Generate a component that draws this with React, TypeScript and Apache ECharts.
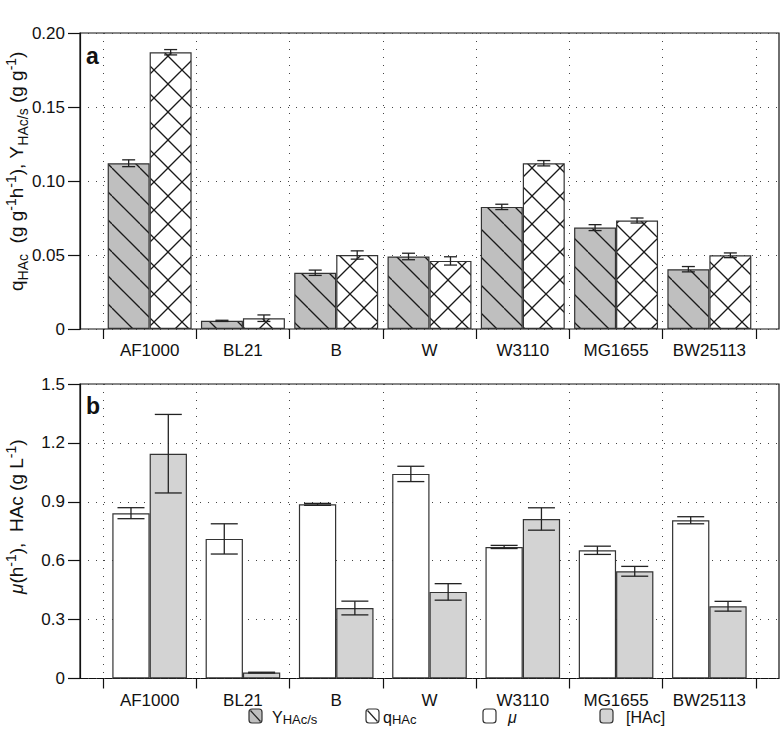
import React, { useEffect, useRef } from 'react';
import * as echarts from 'echarts';

// ---- data ----
const categories = ['AF1000', 'BL21', 'B', 'W', 'W3110', 'MG1655', 'BW25113'];
// panel a
const yieldHAc = [0.112, 0.0055, 0.038, 0.049, 0.0825, 0.0685, 0.0404];
const yieldErr = [0.0023, 0.0004, 0.0018, 0.0022, 0.0018, 0.002, 0.0018];
const qHAc = [0.187, 0.0073, 0.05, 0.046, 0.112, 0.0733, 0.0498];
const qErr = [0.0018, 0.0022, 0.0028, 0.0028, 0.0018, 0.0017, 0.0016];
// panel b
const mu = [0.842, 0.711, 0.887, 1.042, 0.67, 0.653, 0.806];
const muErr = [0.028, 0.077, 0.005, 0.039, 0.008, 0.021, 0.018];
const hac = [1.145, 0.03, 0.359, 0.441, 0.8125, 0.546, 0.368];
const hacErr = [0.2, 0.002, 0.035, 0.042, 0.057, 0.025, 0.025];
// axes
const topAxis = { min: 0, max: 0.2, step: 0.05 };
const bottomAxis = { min: 0, max: 1.5, step: 0.3 };

const FONT = '"Liberation Sans", Arial, Helvetica, sans-serif';
const INK = '#222';

function makePattern(bg: string, back: boolean, fwd: boolean) {
  const s = 28;
  const c = document.createElement('canvas');
  c.width = s;
  c.height = s;
  const ctx = c.getContext('2d')!;
  ctx.fillStyle = bg;
  ctx.fillRect(0, 0, s, s);
  ctx.strokeStyle = '#1a1a1a';
  ctx.lineWidth = 1.3;
  for (const x0 of [-s, 0, s]) {
    if (back) {
      ctx.beginPath();
      ctx.moveTo(x0, 0);
      ctx.lineTo(x0 + s, s);
      ctx.stroke();
    }
    if (fwd) {
      ctx.beginPath();
      ctx.moveTo(x0 + s, 0);
      ctx.lineTo(x0, s);
      ctx.stroke();
    }
  }
  return c;
}

function errSeries(vals: number[], errs: number[], side: number, capW: number, gap: number, xi: number, yi: number) {
  return {
    type: 'custom',
    xAxisIndex: xi,
    yAxisIndex: yi,
    z: 10,
    silent: true,
    data: vals.map((v, k) => [k, v, errs[k]]),
    encode: { x: 0, y: 1 },
    renderItem: (params: any, api: any) => {
      const i = api.value(0);
      const v = api.value(1);
      const e = api.value(2);
      const band = api.size([1, 0])[0];
      const bw = (band * (1 - gap)) / 2;
      const top = api.coord([i, v + e]);
      const bot = api.coord([i, v - e]);
      const x = top[0] + (side * bw) / 2;
      const st = { stroke: INK, lineWidth: 1.3 };
      return {
        type: 'group',
        children: [
          { type: 'line', shape: { x1: x, y1: top[1], x2: x, y2: bot[1] }, style: st },
          { type: 'line', shape: { x1: x - capW / 2, y1: top[1], x2: x + capW / 2, y2: top[1] }, style: st },
          { type: 'line', shape: { x1: x - capW / 2, y1: bot[1], x2: x + capW / 2, y2: bot[1] }, style: st },
        ],
      };
    },
  };
}

const dotted = { color: '#444', width: 1, type: [1, 7] as any };

function frameAxes(gridIndex: number, ax: { min: number; max: number; step: number }, digits: number) {
  const xAxis = { type: 'value', gridIndex, show: false, min: 0, max: 1 };
  const yAxis = {
    type: 'value',
    gridIndex,
    min: ax.min,
    max: ax.max,
    interval: ax.step,
    axisLine: { show: true, lineStyle: { color: '#111', width: 1.2 } },
    axisTick: { show: true, length: 12, lineStyle: { color: '#111', width: 1.2 } },
    axisLabel: {
      color: '#111',
      fontSize: 17,
      fontFamily: FONT,
      margin: 15,
      formatter: (v: number) => (v === 0 ? '0' : v.toFixed(digits)),
    },
    splitLine: { show: true, lineStyle: dotted },
  };
  return { xAxis, yAxis };
}

function barAxes(gridIndex: number, ax: { min: number; max: number }) {
  const xAxis = {
    type: 'category',
    gridIndex,
    data: categories,
    boundaryGap: true,
    axisLine: { show: false },
    axisTick: { show: true, length: 10, interval: 0, lineStyle: { color: '#111', width: 1.2 } },
    axisLabel: { color: '#111', fontSize: 17, lineHeight: 17, fontFamily: FONT, margin: 13, interval: 0 },
    splitLine: { show: true, interval: 0, lineStyle: dotted },
  };
  const yAxis = { type: 'value', gridIndex, min: ax.min, max: ax.max, show: false };
  return { xAxis, yAxis };
}

export default function App() {
  const ref = useRef<HTMLDivElement>(null);
  useEffect(() => {
    document.body.style.margin = '0';
    const chart = echarts.init(ref.current!, undefined, { renderer: 'svg' });
    const stripe = makePattern('#bfbfbf', true, false);
    const cross = makePattern('#ffffff', true, true);

    const f0 = frameAxes(0, topAxis, 2);
    const b1 = barAxes(1, topAxis);
    const f2 = frameAxes(2, bottomAxis, 1);
    const b3 = barAxes(3, bottomAxis);

    const topGap = 0.1;
    const botGap = 0.2;
    const border = { borderColor: '#333', borderWidth: 1.2 };

    const mk = (size: number, subSize: number, lh: number) => ({
      n: { fontSize: size, lineHeight: lh, verticalAlign: 'middle', fontFamily: FONT, fill: '#111' },
      it: { fontSize: size, lineHeight: lh, verticalAlign: 'middle', fontFamily: FONT, fill: '#111', fontStyle: 'italic' },
      sub: { fontSize: subSize, lineHeight: subSize + 1, verticalAlign: 'bottom', fontFamily: FONT, fill: '#111' },
      sup: { fontSize: subSize, lineHeight: subSize + 1, verticalAlign: 'top', fontFamily: FONT, fill: '#111' },
    });
    const titleRich = mk(19, 14, 26);
    const legendRich = mk(16, 13, 17);

    const legendY = 709;
    const legendBox = (x: number, fill: string, diag: boolean) => {
      const els: any[] = [
        { type: 'rect', shape: { x, y: legendY, width: 13, height: 14, r: 3 }, style: { fill, stroke: '#333', lineWidth: 1.2 } },
      ];
      if (diag) {
        els.push({ type: 'line', shape: { x1: x + 1.5, y1: legendY + 1.5, x2: x + 11.5, y2: legendY + 12.5 }, style: { stroke: '#222', lineWidth: 1.2 } });
      }
      return els;
    };
    const legendText = (x: number, text: string) => ({
      type: 'text',
      x,
      y: legendY + 8,
      style: { text, rich: legendRich, align: 'left', verticalAlign: 'middle', fontFamily: FONT, fontSize: 16, fill: '#111' },
    });

    const option: any = {
      animation: false,
      backgroundColor: '#fff',
      grid: [
        { left: 80, right: 3, top: 33, height: 296, show: true, borderColor: '#111', borderWidth: 1.2, backgroundColor: 'transparent' },
        { left: 103, right: 26, top: 33, height: 296 },
        { left: 80, right: 3, top: 384, height: 294.5, show: true, borderColor: '#111', borderWidth: 1.2, backgroundColor: 'transparent' },
        { left: 103, right: 26, top: 384, height: 294.5 },
      ],
      xAxis: [f0.xAxis, b1.xAxis, f2.xAxis, b3.xAxis],
      yAxis: [f0.yAxis, b1.yAxis, f2.yAxis, b3.yAxis],
      series: [
        {
          type: 'bar', name: 'Y', xAxisIndex: 1, yAxisIndex: 1, data: yieldHAc,
          barGap: '0%', barCategoryGap: '10%',
          itemStyle: { color: { image: stripe, repeat: 'repeat' }, ...border },
        },
        {
          type: 'bar', name: 'q', xAxisIndex: 1, yAxisIndex: 1, data: qHAc,
          barGap: '0%', barCategoryGap: '10%',
          itemStyle: { color: { image: cross, repeat: 'repeat' }, ...border },
        },
        errSeries(yieldHAc, yieldErr, -1, 13, topGap, 1, 1),
        errSeries(qHAc, qErr, 1, 13, topGap, 1, 1),
        {
          type: 'bar', name: 'mu', xAxisIndex: 3, yAxisIndex: 3, data: mu,
          barGap: '0%', barCategoryGap: '20%',
          itemStyle: { color: '#ffffff', ...border },
        },
        {
          type: 'bar', name: 'HAc', xAxisIndex: 3, yAxisIndex: 3, data: hac,
          barGap: '0%', barCategoryGap: '20%',
          itemStyle: { color: '#d3d3d3', ...border },
        },
        errSeries(mu, muErr, -1, 27, botGap, 3, 3),
        errSeries(hac, hacErr, 1, 27, botGap, 3, 3),
      ],
      graphic: [
        { type: 'text', x: 86, y: 56, style: { text: 'a', fontSize: 23, fontWeight: 'bold', fontFamily: FONT, fill: '#111', align: 'left', verticalAlign: 'middle' } },
        { type: 'text', x: 86, y: 406, style: { text: 'b', fontSize: 23, fontWeight: 'bold', fontFamily: FONT, fill: '#111', align: 'left', verticalAlign: 'middle' } },
        {
          type: 'text', x: 16.5, y: 291, rotation: Math.PI / 2,
          style: {
            text: '{n|q}{sub|HAc}{n|  (g g}{sup|-1}{n|h}{sup|-1}{n|), Y}{sub|HAc/s}{n| (g g}{sup|-1}{n|)}',
            rich: titleRich, align: 'left', verticalAlign: 'middle',
          },
        },
        {
          type: 'text', x: 16.5, y: 594, rotation: Math.PI / 2,
          style: {
            text: '{it|\u03bc}{n|(h}{sup|-1}{n|),  HAc (g L}{sup|-1}{n|)}',
            rich: titleRich, align: 'left', verticalAlign: 'middle',
          },
        },
        ...legendBox(249, '#bfbfbf', true),
        legendText(272, '{n|Y}{sub|HAc/s}'),
        ...legendBox(366, '#ffffff', true),
        legendText(383, '{n|q}{sub|HAc}'),
        ...legendBox(483, '#ffffff', false),
        legendText(508, '{it|\u03bc}'),
        ...legendBox(600, '#d3d3d3', false),
        legendText(626, '{n|[HAc]}'),
      ],
    };
    chart.setOption(option);
    return () => chart.dispose();
  }, []);
  return <div ref={ref} style={{ position: 'fixed', left: 0, top: 0, width: 782, height: 755 }} />;
}
